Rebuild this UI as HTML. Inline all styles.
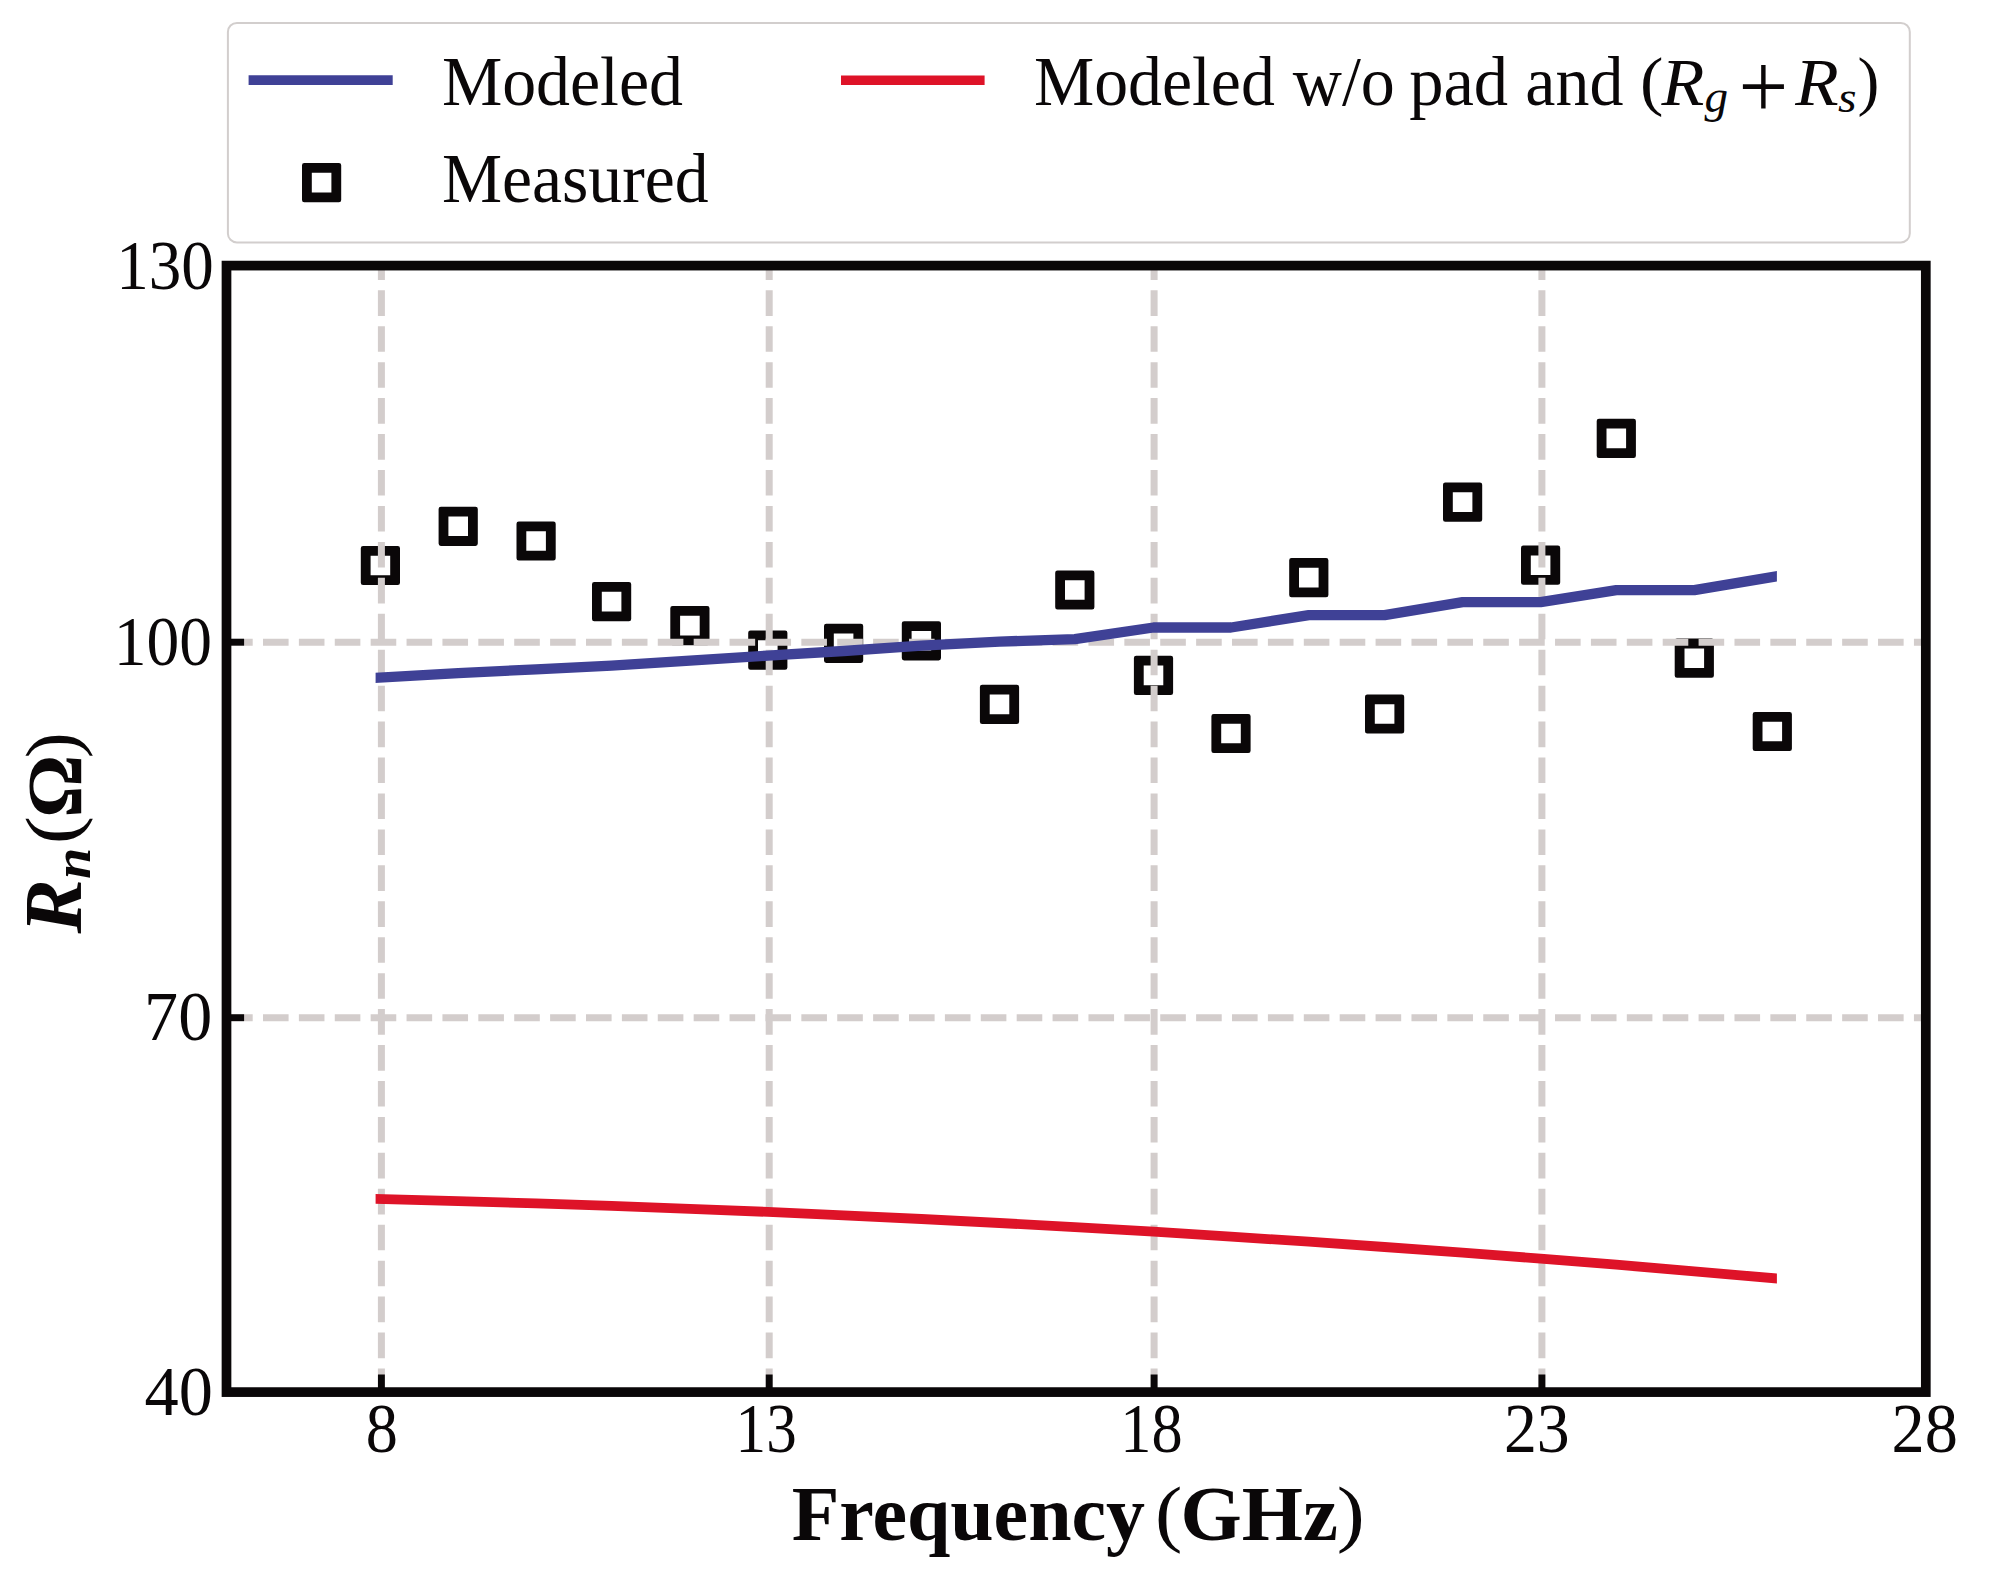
<!DOCTYPE html>
<html><head><meta charset="utf-8"><title>Rn vs Frequency</title>
<style>
html,body{margin:0;padding:0;background:#fff;}
svg{display:block;}
text{font-family:"Liberation Serif",serif;fill:#0a0708;}
.b{font-weight:bold;}.i{font-style:italic;}.bi{font-weight:bold;font-style:italic;}
</style></head><body>
<svg width="1992" height="1583" viewBox="0 0 1992 1583">
<rect width="1992" height="1583" fill="#fff"/>
<defs><clipPath id="cl"><rect x="375.6" y="300" width="1401.3" height="1050"/></clipPath></defs>
<path fill="#0a0708" fill-rule="evenodd" d="M363.10,545.90H397.70Q400.00,545.90 400.00,548.20V582.80Q400.00,585.10 397.70,585.10H363.10Q360.80,585.10 360.80,582.80V548.20Q360.80,545.90 363.10,545.90ZM370.60,555.70V575.30H390.20V555.70Z M440.90,506.70H475.50Q477.80,506.70 477.80,509.00V543.60Q477.80,545.90 475.50,545.90H440.90Q438.60,545.90 438.60,543.60V509.00Q438.60,506.70 440.90,506.70ZM448.40,516.50V536.10H468.00V516.50Z M518.80,521.40H553.40Q555.70,521.40 555.70,523.70V558.30Q555.70,560.60 553.40,560.60H518.80Q516.50,560.60 516.50,558.30V523.70Q516.50,521.40 518.80,521.40ZM526.30,531.20V550.80H545.90V531.20Z M594.30,582.00H628.90Q631.20,582.00 631.20,584.30V618.90Q631.20,621.20 628.90,621.20H594.30Q592.00,621.20 592.00,618.90V584.30Q592.00,582.00 594.30,582.00ZM601.80,591.80V611.40H621.40V591.80Z M672.60,606.00H707.20Q709.50,606.00 709.50,608.30V642.90Q709.50,645.20 707.20,645.20H672.60Q670.30,645.20 670.30,642.90V608.30Q670.30,606.00 672.60,606.00ZM680.10,615.80V635.40H699.70V615.80Z M750.50,630.50H785.10Q787.40,630.50 787.40,632.80V667.40Q787.40,669.70 785.10,669.70H750.50Q748.20,669.70 748.20,667.40V632.80Q748.20,630.50 750.50,630.50ZM758.00,640.30V659.90H777.60V640.30Z M826.30,623.70H860.90Q863.20,623.70 863.20,626.00V660.60Q863.20,662.90 860.90,662.90H826.30Q824.00,662.90 824.00,660.60V626.00Q824.00,623.70 826.30,623.70ZM833.80,633.50V653.10H853.40V633.50Z M904.10,621.20H938.70Q941.00,621.20 941.00,623.50V658.10Q941.00,660.40 938.70,660.40H904.10Q901.80,660.40 901.80,658.10V623.50Q901.80,621.20 904.10,621.20ZM911.60,631.00V650.60H931.20V631.00Z M982.20,684.80H1016.80Q1019.10,684.80 1019.10,687.10V721.70Q1019.10,724.00 1016.80,724.00H982.20Q979.90,724.00 979.90,721.70V687.10Q979.90,684.80 982.20,684.80ZM989.70,694.60V714.20H1009.30V694.60Z M1057.50,570.40H1092.10Q1094.40,570.40 1094.40,572.70V607.30Q1094.40,609.60 1092.10,609.60H1057.50Q1055.20,609.60 1055.20,607.30V572.70Q1055.20,570.40 1057.50,570.40ZM1065.00,580.20V599.80H1084.60V580.20Z M1136.20,655.80H1170.80Q1173.10,655.80 1173.10,658.10V692.70Q1173.10,695.00 1170.80,695.00H1136.20Q1133.90,695.00 1133.90,692.70V658.10Q1133.90,655.80 1136.20,655.80ZM1143.70,665.60V685.20H1163.30V665.60Z M1213.70,713.90H1248.30Q1250.60,713.90 1250.60,716.20V750.80Q1250.60,753.10 1248.30,753.10H1213.70Q1211.40,753.10 1211.40,750.80V716.20Q1211.40,713.90 1213.70,713.90ZM1221.20,723.70V743.30H1240.80V723.70Z M1291.50,558.00H1326.10Q1328.40,558.00 1328.40,560.30V594.90Q1328.40,597.20 1326.10,597.20H1291.50Q1289.20,597.20 1289.20,594.90V560.30Q1289.20,558.00 1291.50,558.00ZM1299.00,567.80V587.40H1318.60V567.80Z M1367.30,694.40H1401.90Q1404.20,694.40 1404.20,696.70V731.30Q1404.20,733.60 1401.90,733.60H1367.30Q1365.00,733.60 1365.00,731.30V696.70Q1365.00,694.40 1367.30,694.40ZM1374.80,704.20V723.80H1394.40V704.20Z M1445.30,482.50H1479.90Q1482.20,482.50 1482.20,484.80V519.40Q1482.20,521.70 1479.90,521.70H1445.30Q1443.00,521.70 1443.00,519.40V484.80Q1443.00,482.50 1445.30,482.50ZM1452.80,492.30V511.90H1472.40V492.30Z M1523.30,545.60H1557.90Q1560.20,545.60 1560.20,547.90V582.50Q1560.20,584.80 1557.90,584.80H1523.30Q1521.00,584.80 1521.00,582.50V547.90Q1521.00,545.60 1523.30,545.60ZM1530.80,555.40V575.00H1550.40V555.40Z M1599.00,418.80H1633.60Q1635.90,418.80 1635.90,421.10V455.70Q1635.90,458.00 1633.60,458.00H1599.00Q1596.70,458.00 1596.70,455.70V421.10Q1596.70,418.80 1599.00,418.80ZM1606.50,428.60V448.20H1626.10V428.60Z M1677.00,638.60H1711.60Q1713.90,638.60 1713.90,640.90V675.50Q1713.90,677.80 1711.60,677.80H1677.00Q1674.70,677.80 1674.70,675.50V640.90Q1674.70,638.60 1677.00,638.60ZM1684.50,648.40V668.00H1704.10V648.40Z M1755.00,711.90H1789.60Q1791.90,711.90 1791.90,714.20V748.80Q1791.90,751.10 1789.60,751.10H1755.00Q1752.70,751.10 1752.70,748.80V714.20Q1752.70,711.90 1755.00,711.90ZM1762.50,721.70V741.30H1782.10V721.70Z"/>
<g fill="none" stroke="#d3cdcc" stroke-width="7.0">
<path stroke-dasharray="25.6 10.34" d="M381.4,1394.1 V265.6"/>
<path stroke-dasharray="25.6 10.34" d="M769.2,1394.1 V265.6"/>
<path stroke-dasharray="25.6 10.34" d="M1154.1,1394.1 V265.6"/>
<path stroke-dasharray="25.6 10.34" d="M1541.9,1394.1 V265.6"/>
<path stroke-dasharray="25.6 10.29" d="M227.1,642.2 H1925.8"/>
<path stroke-dasharray="25.6 10.29" d="M227.1,1017.7 H1925.8"/>
</g>
<path d="M370.4,678.1 L458.2,673.2 L536.1,669.3 L611.6,665.6 L689.9,660.6 L767.8,655.6 L843.6,651.0 L921.4,645.7 L999.5,641.6 L1074.8,639.2 L1153.5,627.5 L1231.0,627.5 L1308.8,615.2 L1384.6,615.2 L1462.6,602.2 L1540.6,602.2 L1616.3,590.1 L1694.3,590.1 L1782.3,575.3" fill="none" stroke="#3f4196" stroke-width="10.3" stroke-linejoin="round" clip-path="url(#cl)"/>
<path d="M370.4,1198.8 L458.2,1201.1 L536.1,1203.4 L611.6,1205.9 L689.9,1208.8 L767.8,1211.9 L843.6,1215.3 L921.4,1219.0 L999.5,1223.0 L1074.8,1227.1 L1153.5,1231.7 L1231.0,1236.6 L1308.8,1241.7 L1384.6,1247.0 L1462.6,1252.7 L1540.6,1258.6 L1616.3,1264.7 L1694.3,1271.3 L1782.3,1279.0" fill="none" stroke="#de1328" stroke-width="9.8" stroke-linejoin="round" clip-path="url(#cl)"/>
<g stroke="#0a0708" stroke-width="6.9">
<path d="M381.4,1392.1 V1374.5"/>
<path d="M769.2,1392.1 V1374.5"/>
<path d="M1154.1,1392.1 V1374.5"/>
<path d="M1541.9,1392.1 V1374.5"/>
<path d="M226.5,642.2 H244.1"/>
<path d="M226.5,1017.7 H244.1"/>
</g>
<rect x="226.5" y="265.6" width="1699.3" height="1126.5" fill="none" stroke="#0a0708" stroke-width="9.7"/>
<rect x="227.9" y="22.9" width="1681.9" height="219.5" rx="9" ry="9" fill="#fff" stroke="#d2cecd" stroke-width="2"/>
<path d="M248.6,80.1 H392.7" stroke="#3f4196" stroke-width="9.8"/>
<path d="M841,80.3 H984.6" stroke="#de1328" stroke-width="9.4"/>
<path fill="#0a0708" fill-rule="evenodd" d="M304.30,163.00H338.90Q341.20,163.00 341.20,165.30V199.90Q341.20,202.20 338.90,202.20H304.30Q302.00,202.20 302.00,199.90V165.30Q302.00,163.00 304.30,163.00ZM311.80,172.80V192.40H331.40V172.80Z"/>
<text class="r" font-size="70.5" transform="translate(116.24,289.36) scale(0.9220,0.9811)">130</text>
<text class="r" font-size="70.5" transform="translate(113.69,664.96) scale(0.9302,0.9811)">100</text>
<text class="r" font-size="70.5" transform="translate(144.12,1040.26) scale(0.9651,0.9811)">70</text>
<text class="r" font-size="70.5" transform="translate(144.55,1415.46) scale(0.9691,0.9811)">40</text>
<text class="r" font-size="70.5" transform="translate(365.79,1452.26) scale(0.9109,0.9853)">8</text>
<text class="r" font-size="70.5" transform="translate(735.58,1452.26) scale(0.8667,0.9853)">13</text>
<text class="r" font-size="70.5" transform="translate(1120.37,1452.26) scale(0.8846,0.9853)">18</text>
<text class="r" font-size="70.5" transform="translate(1503.90,1452.26) scale(0.9328,0.9853)">23</text>
<text class="r" font-size="70.5" transform="translate(1891.58,1452.26) scale(0.9405,0.9853)">28</text>
<text class="r" font-size="70.5" transform="translate(441.88,104.55) scale(0.9623,0.9970)">Modeled</text>
<text class="r" font-size="70.5" transform="translate(441.88,202.35) scale(0.9593,0.9970)">Measured</text>
<text class="r" font-size="70.5" transform="translate(1033.98,104.55) scale(0.9610,0.9970)">Modeled</text>
<text class="r" font-size="70.5" transform="translate(1292.80,104.55) scale(0.9650,0.9970)">w/o</text>
<text class="r" font-size="70.5" transform="translate(1409.18,104.55) scale(0.9724,0.9970)">pad</text>
<text class="r" font-size="70.5" transform="translate(1525.29,104.55) scale(0.9635,0.9970)">and</text>
<text class="r" font-size="70.5" transform="translate(1640.11,103.19) scale(0.9973,0.9208)">(</text>
<text class="i" font-size="70.5" transform="translate(1661.55,104.60) scale(0.9952,0.9449)">R</text>
<text class="i" font-size="49.4" transform="translate(1704.40,111.86) scale(0.9548,0.9274)">g</text>
<text class="r" font-size="80" transform="translate(1738.49,118.46) scale(1.1034,1.1570)">+</text>
<text class="i" font-size="70.5" transform="translate(1795.35,104.60) scale(1.0095,0.9449)">R</text>
<text class="i" font-size="49.4" transform="translate(1838.08,111.95) scale(0.9647,0.9053)">s</text>
<text class="r" font-size="70.5" transform="translate(1857.60,103.19) scale(0.9315,0.9208)">)</text>
<text class="b" font-size="77.5" transform="translate(791.64,1540.40) scale(1.0054,1.0000)">Frequency</text>
<text class="r" font-size="77.5" transform="translate(1155.00,1537.63) scale(1.0582,0.9438)">(</text>
<text class="b" font-size="77.5" transform="translate(1180.59,1540.45) scale(1.0154,1.0038)">GHz</text>
<text class="r" font-size="77.5" transform="translate(1336.69,1537.63) scale(1.0850,0.9438)">)</text>
<g transform="rotate(-90)">
<text class="bi" font-size="77.5" transform="translate(-933.50,80.90) scale(1.0503,1.0601)">R</text>
<text class="bi" font-size="54.2" transform="translate(-879.10,90.40) scale(1.0400,0.9686)">n</text>
<text class="r" font-size="77.5" transform="translate(-844.33,77.43) scale(1.0937,0.9438)">(</text>
<text class="b" font-size="77.5" transform="translate(-817.65,80.50) scale(1.0145,1.0127)">Ω</text>
<text class="r" font-size="77.5" transform="translate(-758.23,77.43) scale(1.0100,0.9438)">)</text>
</g>
</svg></body></html>
